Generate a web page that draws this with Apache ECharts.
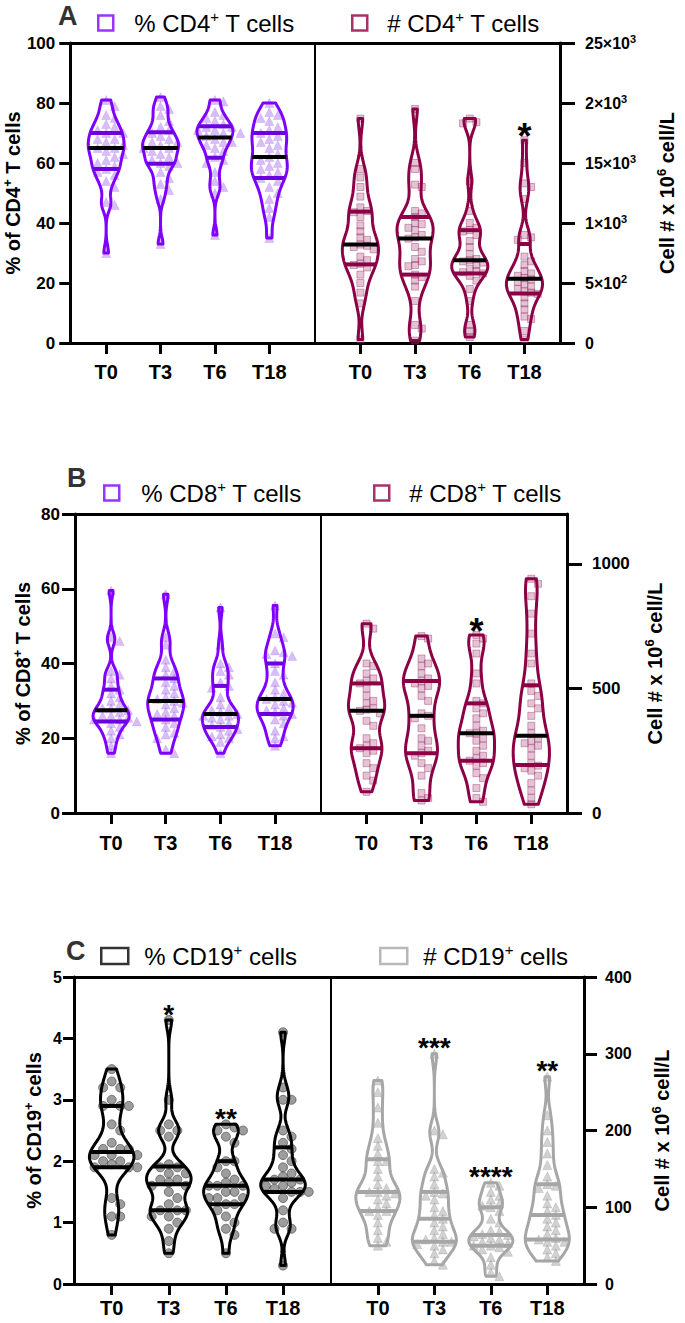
<!DOCTYPE html>
<html><head><meta charset="utf-8">
<script src="https://cdn.jsdelivr.net/npm/echarts@6/dist/echarts.min.js"></script>
<style>html,body{margin:0;padding:0;background:#fff}#c{width:685px;height:1323px}</style>
</head><body><div id="c"></div>
<script>
// ---------------- DATA ----------------
const CATEGORIES = ['T0', 'T3', 'T6', 'T18'];

// Panel A: % CD4+ T cells (left axis) and # CD4+ T cells (right axis, x10^6 cell/L)
const A_PCT = [
  [81,79,76,75,73,72,71,70,70,68,68,67,66,65,65,64,63,62,61,60,59,58,57,56,54,52,47,46,30],
  [82,79,78,76,74,72,71,70,69,68,67,67,66,65,65,64,63,62,61,60,60,59,57,55,53,51,48,33],
  [81,80.5,77,76,75,74,73,72,72,71,71,70,70,69,68,67,67,66,65,64,62,61,60,57,54,52,50,36],
  [80,77,76,75,74,72,71,70,69,68,67,66,65,63,62,61,60,59,58,57,56,55,54,52,50,48,45,42,35]
];
const A_NUM = [
  [1870,1450,1380,1300,1220,1130,1100,1090,1050,980,930,880,860,820,810,800,780,720,690,660,650,630,570,500,420,330,30],
  [1950,1500,1450,1320,1300,1100,1080,1050,1000,990,960,940,900,880,870,800,760,700,680,650,640,570,550,520,470,350,150,120,20],
  [1870,1840,1830,1350,1100,1000,960,940,930,900,850,800,740,700,690,680,670,650,620,600,590,580,560,520,450,350,150,100,50],
  [1690,1500,1330,1300,1200,900,880,860,720,680,650,600,580,560,540,530,510,490,470,450,430,420,410,380,330,280,220,200,100,30]
];
const A_PCT_SIG = ['', '', '', ''];
const A_NUM_SIG = ['', '', '', '*'];
const A_NUM_TICK_LABELS = ['0', '{n|5×10}{s|2}', '{n|1×10}{s|3}', '{n|15×10}{s|3}', '{n|2×10}{s|3}', '{n|25×10}{s|3}'];

// Panel B: % CD8+ T cells and # CD8+ T cells
const B_PCT = [
  [59.5,47,46,38,37,36,34,33,32,31,30,29,28,28,27.5,27,26,26,25.5,25,25,24.5,24,23,22,21,20,18,16],
  [58.5,47,45,41,39,38,37,36,35,34,33,32,31,30.5,30,29.5,29,28,27,26.5,26,25,24,23,21.5,21,20,17,16],
  [55,45,40,39,38,37,35,34,33.5,31,29,28,27.5,27,26.5,26,26,25.5,25,24,23.5,23,22.5,22,21,20.5,20,19,16],
  [55.5,48,47,43.5,43,42.5,42,40,38,37,35,33,32,31,30.5,30,29.5,29,28,27.5,27,26.5,26,25,24,22,20.5,20,18]
];
const B_NUM = [
  [760,740,600,590,560,540,530,520,500,470,450,440,420,415,410,400,370,350,300,280,270,260,250,240,200,180,150,130,85],
  [710,700,620,600,590,560,540,530,520,510,500,470,450,400,390,380,340,300,290,270,250,240,230,200,180,150,80,60,50],
  [714,700,680,640,560,520,450,440,420,400,380,350,330,320,320,300,290,270,250,230,220,210,200,190,160,140,100,60,45],
  [940,920,870,800,720,640,600,520,490,470,440,420,390,350,320,300,290,280,270,260,230,200,190,180,170,150,120,90,60,35]
];
const B_PCT_SIG = ['', '', '', ''];
const B_NUM_SIG = ['', '', '*', ''];
const B_NUM_TICKS = [0, 500, 1000];

// Panel C: % CD19+ cells and # CD19+ cells
const C_PCT = [
  [3.5,3.3,3.2,3.2,3.0,2.9,2.9,2.9,2.6,2.5,2.3,2.2,2.2,2.2,2.1,2.1,2.1,2.0,2.0,1.95,1.9,1.9,1.9,1.4,1.3,1.1,1.1,0.8],
  [4.3,3.0,2.6,2.5,2.5,2.4,1.95,1.9,1.9,1.8,1.8,1.7,1.7,1.65,1.6,1.6,1.5,1.4,1.3,1.2,1.2,1.2,1.1,1.1,1.0,0.9,0.7,0.5],
  [2.6,2.55,2.5,2.5,2.4,2.3,2.0,2.0,1.9,1.8,1.7,1.65,1.6,1.6,1.6,1.5,1.5,1.4,1.4,1.4,1.3,1.3,1.2,1.1,1.0,0.9,0.8,0.5],
  [4.1,3.2,3.0,3.0,2.5,2.4,2.3,2.2,2.1,2.0,1.9,1.8,1.75,1.7,1.7,1.65,1.6,1.6,1.55,1.5,1.5,1.5,1.4,1.2,1.0,0.9,0.9,0.3]
];
const C_NUM = [
  [265,250,230,210,190,180,170,160,160,150,140,130,125,120,120,118,115,110,105,100,95,95,90,80,70,60,55,50],
  [300,200,195,150,145,140,130,120,118,115,110,100,95,90,85,80,75,70,65,60,58,55,55,52,50,45,40,30,25],
  [132,128,120,115,110,105,102,100,95,85,80,70,68,65,64,62,60,58,55,53,50,50,48,45,42,35,25,15,10],
  [270,220,200,185,170,155,140,130,128,125,115,105,100,95,90,85,80,75,70,65,60,58,55,55,50,45,40,35,30]
];
const C_PCT_SIG = ['', '*', '**', ''];
const C_NUM_SIG = ['', '***', '****', '**'];

const SERIES_NAMES = ['% CD4+ T cells', '# CD4+ T cells', '% CD8+ T cells', '# CD8+ T cells', '% CD19+ cells', '# CD19+ cells'];
const PANEL_LETTERS = ['A', 'B', 'C'];

// ---------------- STYLE / LAYOUT ----------------
const FONT = 'Arial, "Liberation Sans", Helvetica, sans-serif';
const PURPLE = '#8000ff', PURPLE_Q = '#6d00e0', MAROON = '#8c0046', GRAY = '#a6a6a6';
const X_LEFT = [-0.66, 3.84], X_RIGHT = [-0.83, 3.65];

function boldRich(size, sup, lh) {
  return {
    n: {fontSize: size, fontWeight: 'bold', fontFamily: FONT, color: '#000', lineHeight: lh},
    b: {fontSize: size, fontWeight: 'bold', fontFamily: FONT, color: '#000', lineHeight: lh},
    s: {fontSize: sup, fontWeight: 'bold', fontFamily: FONT, color: '#000', lineHeight: sup, verticalAlign: 'top'}
  };
}

const HALVES = [
  {side:'left', grid:{left:69, top:43, width:246, height:300}, xr:X_LEFT, y:{min:0, max:100, interval:20},
   values:A_PCT, sig:A_PCT_SIG, line:PURPLE, quart:PURPLE_Q, med:'#000', halfW:0.33,
   sym:'triangle', symSize:9, pFill:'rgba(140,60,230,0.42)', pBorder:'rgba(140,60,230,0.2)',
   axisName:'{b|% of CD4}{s|+}{b| T cells}', nameGap:41, labelMargin:15, tickLen:11, labelFont:17, xMargin:19, sigFont:36},
  {side:'right', grid:{left:315, top:43, width:245, height:300}, xr:X_RIGHT, y:{min:0, max:2500, interval:500, labels:A_NUM_TICK_LABELS},
   values:A_NUM, sig:A_NUM_SIG, line:MAROON, quart:MAROON, med:'#000', halfW:0.33,
   sym:'rect', symSize:7, pFill:'rgba(170,70,120,0.4)', pBorder:'rgba(150,40,100,0.5)',
   axisName:'{b|Cell # x 10}{s|6}{b| cell/L}', nameGap:95, labelMargin:25, tickLen:15, labelFont:16, xMargin:19, sigFont:36},
  {side:'left', grid:{left:75, top:514, width:246, height:299}, xr:X_LEFT, y:{min:0, max:80, interval:20},
   values:B_PCT, sig:B_PCT_SIG, line:PURPLE, quart:PURPLE_Q, med:'#000', halfW:0.33,
   sym:'triangle', symSize:9, pFill:'rgba(140,60,230,0.42)', pBorder:'rgba(140,60,230,0.2)',
   axisName:'{b|% of CD8}{s|+}{b| T cells}', nameGap:40, labelMargin:15, tickLen:13, labelFont:17, xMargin:20, sigFont:36},
  {side:'right', grid:{left:321, top:514, width:246, height:299}, xr:X_RIGHT, y:{min:0, max:1200, ticks:B_NUM_TICKS},
   values:B_NUM, sig:B_NUM_SIG, line:MAROON, quart:MAROON, med:'#000', halfW:0.33,
   sym:'rect', symSize:7, pFill:'rgba(170,70,120,0.4)', pBorder:'rgba(150,40,100,0.5)',
   axisName:'{b|Cell # x 10}{s|6}{b| cell/L}', nameGap:76, labelMargin:25, tickLen:15, labelFont:17, xMargin:20, sigFont:36},
  {side:'left', grid:{left:74, top:977, width:257, height:307}, xr:X_LEFT, y:{min:0, max:5, interval:1},
   values:C_PCT, sig:C_PCT_SIG, line:'#000', quart:'#000', med:'#000', halfW:0.39,
   sym:'circle', symSize:9, pFill:'rgba(110,110,110,0.85)', pBorder:'rgba(70,70,70,0.8)',
   axisName:'{b|% of CD19}{s|+}{b| cells}', nameGap:28, labelMargin:12, tickLen:11, labelFont:16, xMargin:14, sigFont:28},
  {side:'right', grid:{left:331, top:977, width:253, height:307}, xr:X_RIGHT, y:{min:0, max:400, interval:100},
   values:C_NUM, sig:C_NUM_SIG, line:GRAY, quart:GRAY, med:GRAY, halfW:0.39,
   sym:'triangle', symSize:9, pFill:'rgba(160,160,160,0.6)', pBorder:'rgba(150,150,150,0.4)',
   axisName:'{b|Cell # x 10}{s|6}{b| cell/L}', nameGap:66, labelMargin:21, tickLen:13, labelFont:16, xMargin:14, sigFont:28}
];

const LEGENDS = [
  {box:[97, 15, 15, 15], gap:16, color:PURPLE},
  {box:[351, 15, 15, 15], gap:15, color:MAROON},
  {box:[103, 485, 15, 15], gap:17, color:PURPLE},
  {box:[373, 485, 15, 15], gap:15, color:MAROON},
  {box:[100, 948, 27, 16], gap:11, color:'#000'},
  {box:[379, 948, 27, 16], gap:11, color:GRAY}
];
const TITLES = [[58, 2], [67, 464], [66, 937]];

// ---------------- HELPERS ----------------
function quantile(s, p) {
  const idx = (s.length - 1) * p, lo = Math.floor(idx), hi = Math.ceil(idx);
  return s[lo] + (s[hi] - s[lo]) * (idx - lo);
}
function violinStats(vals, bwFactor) {
  const s = vals.slice().sort((a, b) => a - b);
  const n = s.length, mean = s.reduce((a, b) => a + b, 0) / n;
  const sd = Math.sqrt(s.reduce((a, b) => a + (b - mean) * (b - mean), 0) / (n - 1));
  const iqr = quantile(s, 0.75) - quantile(s, 0.25);
  const h = bwFactor * 0.9 * Math.min(sd, iqr / 1.34) * Math.pow(n, -0.2);
  const raw = y => { let d = 0; for (const v of s) { const z = (y - v) / h; d += Math.exp(-0.5 * z * z); } return d; };
  const lo = s[0], hi = s[n - 1], N = 120, pts = [];
  for (let i = 0; i <= N; i++) { const y = lo + (hi - lo) * i / N; pts.push([y, raw(y)]); }
  const mx = Math.max(...pts.map(p => p[1]));
  pts.forEach(p => { p[1] /= mx; });
  return {pts, dens: y => raw(y) / mx, q1: quantile(s, 0.25), med: quantile(s, 0.5), q3: quantile(s, 0.75), max: hi, min: lo};
}
function swarmOffsets(vals, pxPerY, pxPerX, size) {
  const order = vals.map((v, i) => i).sort((a, b) => vals[b] - vals[a]);
  const placed = [], off = new Array(vals.length).fill(0);
  const sy = size * 0.8, sx = size * 0.95;
  order.forEach(i => {
    const y = vals[i] * pxPerY;
    for (let k = 0; k < 60; k++) {
      const m = k === 0 ? 0 : (k % 2 ? (k + 1) / 2 : -k / 2);
      const x = m * sx;
      if (!placed.some(p => Math.abs(p.y - y) < sy && Math.abs(p.x - x) < sx)) {
        placed.push({x, y}); off[i] = x / pxPerX; break;
      }
    }
  });
  return off;
}

// ---------------- OPTION ----------------
const grid = [], xAxis = [], yAxis = [], series = [];
HALVES.forEach((h, hi) => {
  grid.push(Object.assign({containLabel: false}, h.grid));
  const gi = hi;
  xAxis.push({
    gridIndex: gi, type: 'value', position: 'bottom', min: h.xr[0], max: h.xr[1],
    axisLine: {show: true, onZero: false, lineStyle: {color: '#000', width: 3}},
    axisTick: {show: true, length: 11, lineStyle: {color: '#000', width: 3}, customValues: [0, 1, 2, 3]},
    axisLabel: {show: true, customValues: [0, 1, 2, 3], formatter: v => CATEGORIES[Math.round(v)] || '',
      fontSize: 20, fontWeight: 'bold', fontFamily: FONT, color: '#000', margin: h.xMargin},
    splitLine: {show: false}
  });
  const bottomX = xAxis.length - 1;
  xAxis.push({
    gridIndex: gi, type: 'value', position: 'top', min: h.xr[0], max: h.xr[1],
    axisLine: {show: true, onZero: false, lineStyle: {color: '#000', width: 3}},
    axisTick: {show: false}, axisLabel: {show: false}, splitLine: {show: false}
  });
  const rich = boldRich(h.labelFont, 11, h.labelFont + 4);
  const yMain = {
    gridIndex: gi, type: 'value', position: h.side, min: h.y.min, max: h.y.max,
    axisLine: {show: true, onZero: false, lineStyle: {color: '#000', width: 3}},
    axisTick: {show: true, length: h.tickLen, lineStyle: {color: '#000', width: 3}},
    axisLabel: {show: true, margin: h.labelMargin, fontSize: h.labelFont, fontWeight: 'bold', fontFamily: FONT, color: '#000', rich},
    splitLine: {show: false},
    name: h.axisName, nameLocation: 'middle', nameGap: h.nameGap,
    nameTextStyle: {rich: boldRich(20, 13, 24)}
  };
  if (h.y.interval) yMain.interval = h.y.interval;
  if (h.y.labels) { const L = h.y.labels; yMain.axisLabel.formatter = v => L[Math.round(v / h.y.interval)]; }
  if (h.y.ticks) { yMain.axisTick.customValues = h.y.ticks; yMain.axisLabel.customValues = h.y.ticks; yMain.axisLabel.formatter = v => String(v); }
  yAxis.push(yMain);
  const yIdx = yAxis.length - 1;
  if (h.side === 'left') {
    yAxis.push({gridIndex: gi, type: 'value', position: 'right', min: h.y.min, max: h.y.max,
      axisLine: {show: true, onZero: false, lineStyle: {color: '#000', width: 2}},
      axisTick: {show: false}, axisLabel: {show: false}, splitLine: {show: false}});
  }

  const stats = h.values.map(v => violinStats(v, 0.62));
  const pxPerY = h.grid.height / (h.y.max - h.y.min);
  const pxPerX = h.grid.width / (h.xr[1] - h.xr[0]);
  const pts = [];
  h.values.forEach((vals, ci) => {
    const off = swarmOffsets(vals, pxPerY, pxPerX, h.symSize);
    vals.forEach((v, k) => pts.push([ci + off[k], v]));
  });
  const name = SERIES_NAMES[hi];
  series.push({
    type: 'scatter', name, xAxisIndex: bottomX, yAxisIndex: yIdx, data: pts, z: 2, silent: true,
    symbol: h.sym, symbolSize: h.symSize,
    itemStyle: {color: h.pFill, borderColor: h.pBorder, borderWidth: 1}
  });
  series.push({
    type: 'custom', name, xAxisIndex: bottomX, yAxisIndex: yIdx, z: 3, silent: true,
    data: h.values.map((v, i) => [i, Math.max(...v)]),
    itemStyle: {color: h.line},
    renderItem: (params, api) => {
      const i = api.value(0), st = stats[i];
      const L = [], R = [];
      st.pts.forEach(([y, d]) => { L.push(api.coord([i - d * h.halfW, y])); R.push(api.coord([i + d * h.halfW, y])); });
      const poly = L.concat(R.reverse());
      const children = [{type: 'polygon', shape: {points: poly}, style: {fill: 'none', stroke: h.line, lineWidth: 3, lineJoin: 'round'}}];
      [[st.q1, h.quart], [st.q3, h.quart], [st.med, h.med]].forEach(([q, c]) => {
        const w = st.dens(q) * h.halfW;
        const p1 = api.coord([i - w, q]), p2 = api.coord([i + w, q]);
        children.push({type: 'line', shape: {x1: p1[0], y1: p1[1], x2: p2[0], y2: p2[1]}, style: {stroke: c, lineWidth: 4}});
      });
      if (h.sig[i]) {
        const p = api.coord([i, st.max]);
        children.push({type: 'text', x: p[0], y: p[1] - 12 + 0.22 * h.sigFont,
          style: {text: h.sig[i], fill: '#000', font: 'bold ' + h.sigFont + 'px ' + FONT, align: 'center', verticalAlign: 'middle'}});
      }
      return {type: 'group', children};
    }
  });
});

const legend = LEGENDS.map((lg, i) => ({
  left: lg.box[0], top: lg.box[1] - 6, padding: 0, selectedMode: false,
  itemWidth: lg.box[2], itemHeight: lg.box[3],
  data: [{name: SERIES_NAMES[i], icon: 'rect', itemStyle: {color: 'rgba(0,0,0,0)', borderColor: lg.color, borderWidth: 2.5}}],
  formatter: n => { const k = n.indexOf('+'); return '{n|' + n.slice(0, k) + '}{s|+}{n|' + n.slice(k + 1) + '}'; },
  textStyle: {padding: [0, 0, 0, lg.gap], rich: {
    n: {fontSize: 24, fontFamily: FONT, color: '#000', lineHeight: 28},
    s: {fontSize: 15, fontFamily: FONT, color: '#000', lineHeight: 15, verticalAlign: 'top'}}}
}));

const title = PANEL_LETTERS.map((t, i) => ({text: t, left: TITLES[i][0], top: TITLES[i][1], padding: 0,
  textStyle: {fontSize: 27, fontWeight: 'bold', fontFamily: FONT, color: '#333'}}));

const chart = echarts.init(document.getElementById('c'), null, {renderer: 'svg'});
chart.setOption({animation: false, backgroundColor: '#fff', title, legend, grid, xAxis, yAxis, series});
</script>
</body></html>
